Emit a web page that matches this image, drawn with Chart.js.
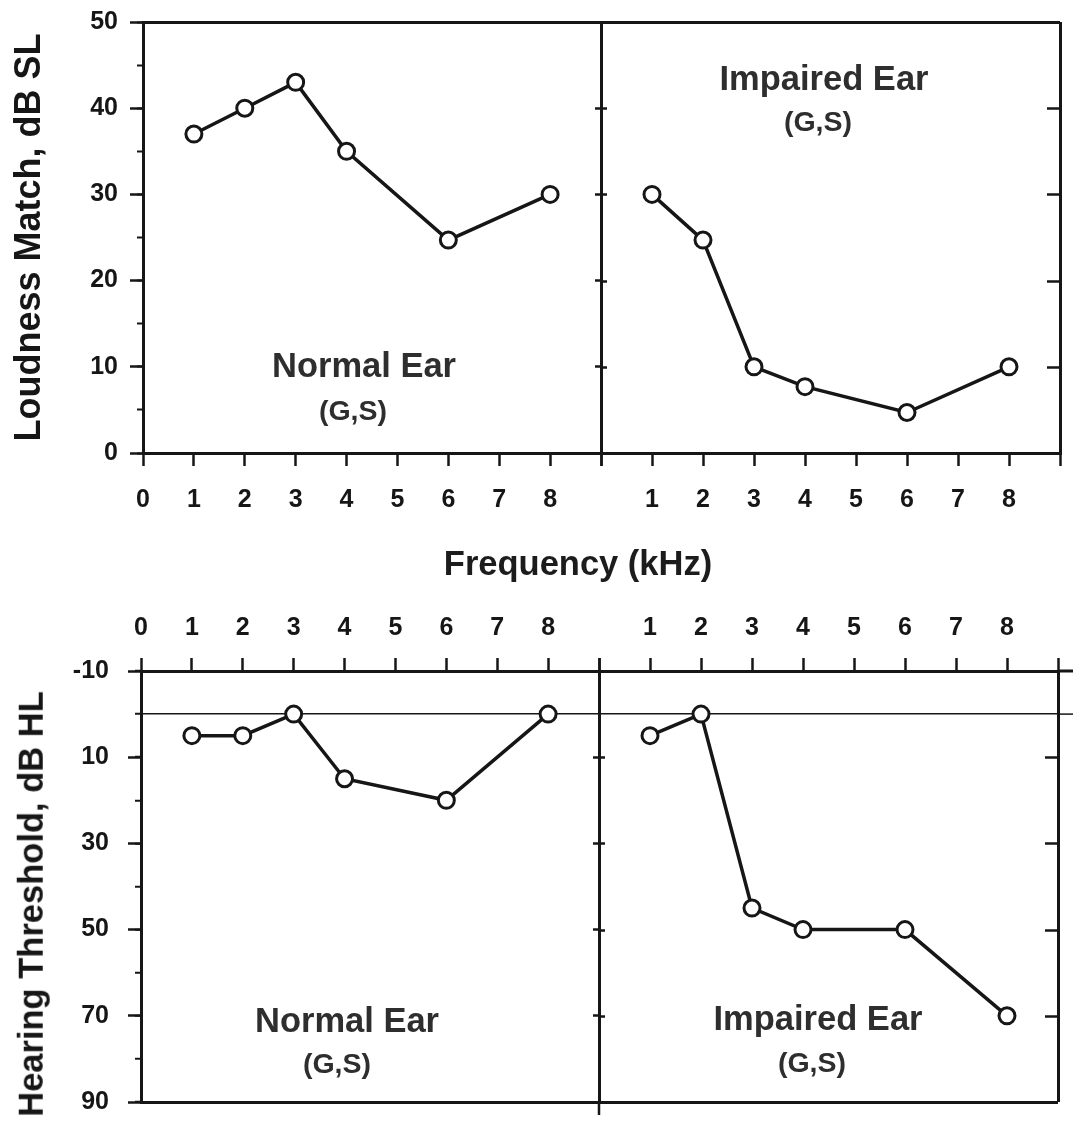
<!DOCTYPE html>
<html>
<head>
<meta charset="utf-8">
<title>Loudness match and hearing threshold</title>
<script src="https://cdn.jsdelivr.net/npm/chart.js@4.4.0/dist/chart.umd.min.js"></script>
<style>
  body { margin: 0; background: #fff; }
  #figure { position: relative; width: 1073px; height: 1121px; overflow: hidden;
            font-family: 'Liberation Sans', Arial, sans-serif; font-weight: bold; }
  #figure canvas { position: absolute; }
  .note { position: absolute; transform: translate(-50%, -50%); white-space: nowrap; line-height: 1; color: #2e2e2e; }
  .big { font-size: 34.5px; }
  .small { font-size: 28.5px; }
  .ytitle { position: absolute; transform: translate(-50%, -50%) rotate(-90deg); white-space: nowrap;
            line-height: 1; color: #161616; font-size: 34.5px; }
</style>
</head>
<body>
<div id="figure">
  <canvas id="loudNormal" width="630" height="535" style="left:0;top:-5px"></canvas>
  <canvas id="loudImpaired" width="510" height="530" style="left:575px;top:0"></canvas>
  <canvas id="threshNormal" width="630" height="576" style="left:0;top:560px"></canvas>
  <canvas id="threshImpaired" width="510" height="561" style="left:575px;top:560px"></canvas>

  <div class="note big" style="left:578px;top:563px;color:#1c1c1c">Frequency (kHz)</div>
  <div class="ytitle" style="left:31px;top:904px">Hearing Threshold, dB HL</div>
  <div class="note big" style="left:364px;top:365px">Normal Ear</div>
  <div class="note small" style="left:353px;top:410px">(G,S)</div>
  <div class="note big" style="left:824px;top:78px">Impaired Ear</div>
  <div class="note small" style="left:818px;top:121px">(G,S)</div>
  <div class="note big" style="left:347px;top:1020px">Normal Ear</div>
  <div class="note small" style="left:337px;top:1063px">(G,S)</div>
  <div class="note big" style="left:818px;top:1018px">Impaired Ear</div>
  <div class="note small" style="left:812px;top:1062px">(G,S)</div>
</div>
<script>
// --- data ---
const freqKHz = [1, 2, 3, 4, 6, 8];
const loudnessNormal = [37, 40, 43, 35, 24.7, 30];
const loudnessImpaired = [30, 24.7, 10, 7.7, 4.7, 10];
const thresholdNormal = [5, 5, 0, 15, 20, 0];
const thresholdImpaired = [5, 0, 45, 50, 50, 70];

const normalTickLabels = ['0', '1', '2', '3', '4', '5', '6', '7', '8', ''];
const impairedTickLabels = ['', '1', '2', '3', '4', '5', '6', '7', '8', ''];

const INK = '#161616';
const tickFont = { size: 25, weight: 'bold' };

Chart.defaults.font.family = "'Liberation Sans', Arial, sans-serif";
Chart.defaults.color = INK;

// inward ticks on panel edges, short lines past the right border, divider stub below
const frameTicks = {
    id: 'frameTicks',
    afterDraw(chart, args, opts) {
        const { ctx, chartArea: area, scales: { y } } = chart;
        ctx.save();
        ctx.strokeStyle = INK;
        ctx.lineWidth = 2.5;
        ctx.beginPath();
        y.ticks.filter(t => t.value > y.min && t.value < y.max).forEach(t => {
            const py = Math.round(y.getPixelForValue(t.value)) + 0.5;
            ctx.moveTo(area.left, py); ctx.lineTo(area.left + opts.left, py);
            ctx.moveTo(area.right, py); ctx.lineTo(area.right - opts.right, py);
        });
        if (opts.stubBelow) {
            ctx.moveTo(area.left, area.bottom); ctx.lineTo(area.left, area.bottom + opts.stubBelow);
        }
        ctx.stroke();
        (opts.extend || []).forEach(([v, w]) => {
            const py = y.getPixelForValue(v);
            ctx.lineWidth = w;
            ctx.beginPath(); ctx.moveTo(area.right, py); ctx.lineTo(chart.width, py); ctx.stroke();
        });
        ctx.restore();
    }
};

function series(values) {
    return [{
        data: freqKHz.map((f, i) => ({ x: f, y: values[i] })),
        borderColor: INK,
        borderWidth: 3.5,
        pointRadius: 8,
        pointBorderWidth: 3,
        pointBackgroundColor: '#fff',
        pointBorderColor: INK,
        clip: false
    }];
}

function xAxis(position, labels, height) {
    return {
        type: 'linear', position, min: 0, max: 9,
        ticks: { stepSize: 1, autoSkip: false, maxRotation: 0, font: tickFont, color: INK,
                 padding: position === 'bottom' ? 19 : 15, callback: v => labels[v] },
        grid: { color: c => c.tick.value === 9 ? INK : 'transparent', lineWidth: 3,
                tickColor: INK, tickWidth: 2.5, tickLength: 13 },
        border: { color: INK, width: 3 },
        afterFit: s => { s.height = height; }
    };
}

const baseOptions = {
    responsive: false,
    animation: false,
    events: [],
    plugins: { legend: { display: false }, tooltip: { enabled: false } }
};

// 1. Loudness match, normal ear
new Chart(document.getElementById('loudNormal'), {
    type: 'line',
    data: { datasets: series(loudnessNormal) },
    options: {
        ...baseOptions,
        layout: { padding: { top: 27, right: 29, bottom: 0, left: 0 } },
        scales: {
            x: xAxis('bottom', normalTickLabels, 77),
            y: {
                type: 'linear', position: 'left', weight: 1, min: 0, max: 50,
                ticks: { stepSize: 10, font: tickFont, color: INK, padding: 12 },
                grid: { color: c => c.tick.value === 50 ? INK : 'transparent', lineWidth: 3,
                        tickColor: INK, tickWidth: 2.5, tickLength: 13 },
                border: { color: INK, width: 3 },
                title: { display: true, text: 'Loudness Match, dB SL', color: INK,
                         font: { size: 36, weight: 'bold' }, padding: { top: 8 } },
                afterFit: s => { s.width = 143; }
            },
            yMinor: {
                type: 'linear', position: 'left', weight: 0, min: 0, max: 50,
                ticks: { stepSize: 5, display: false },
                grid: { drawOnChartArea: false, tickColor: INK, tickWidth: 2, tickLength: 6 },
                border: { display: false },
                afterFit: s => { s.width = 0; }
            }
        }
    }
});

// 2. Loudness match, impaired ear
new Chart(document.getElementById('loudImpaired'), {
    type: 'line',
    data: { datasets: series(loudnessImpaired) },
    options: {
        ...baseOptions,
        layout: { padding: { top: 22, right: 25, bottom: 0, left: 0 } },
        scales: {
            x: xAxis('bottom', impairedTickLabels, 77),
            y: {
                type: 'linear', position: 'left', min: 0, max: 50,
                ticks: { stepSize: 10, display: false },
                grid: { color: c => c.tick.value === 50 ? INK : 'transparent', lineWidth: 3,
                        tickColor: INK, tickWidth: 2.5, tickLength: 6 },
                border: { color: INK, width: 3 },
                afterFit: s => { s.width = 26; }
            }
        },
        plugins: { ...baseOptions.plugins, frameTicks: { left: 6, right: 13 } }
    },
    plugins: [frameTicks]
});

// 3. Hearing threshold, normal ear
new Chart(document.getElementById('threshNormal'), {
    type: 'line',
    data: { datasets: series(thresholdNormal) },
    options: {
        ...baseOptions,
        layout: { padding: { top: 0, right: 31, bottom: 34, left: 0 } },
        scales: {
            x: xAxis('top', normalTickLabels, 111),
            y: {
                type: 'linear', position: 'left', weight: 1, reverse: true, min: -10, max: 90,
                ticks: { stepSize: 20, font: tickFont, color: INK, padding: 19 },
                grid: { color: c => c.tick.value === 90 ? INK : 'transparent', lineWidth: 3,
                        tickColor: INK, tickWidth: 2.5, tickLength: 13 },
                border: { color: INK, width: 3 },
                afterFit: s => { s.width = 141; }
            },
            yMinor: {
                type: 'linear', position: 'left', weight: 0, reverse: true, min: -10, max: 90,
                ticks: { stepSize: 10, display: false },
                grid: { color: c => c.tick.value === 0 ? INK : 'transparent', lineWidth: 1.5,
                        tickColor: INK, tickWidth: 2, tickLength: 6 },
                border: { display: false },
                afterFit: s => { s.width = 0; }
            }
        }
    }
});

// 4. Hearing threshold, impaired ear
new Chart(document.getElementById('threshImpaired'), {
    type: 'line',
    data: { datasets: series(thresholdImpaired) },
    options: {
        ...baseOptions,
        layout: { padding: { top: 0, right: 27, bottom: 19, left: 0 } },
        scales: {
            x: xAxis('top', impairedTickLabels, 111),
            y: {
                type: 'linear', position: 'left', weight: 1, reverse: true, min: -10, max: 90,
                ticks: { stepSize: 20, display: false },
                grid: { color: c => c.tick.value === 90 ? INK : 'transparent', lineWidth: 3,
                        tickColor: INK, tickWidth: 2.5, tickLength: 6 },
                border: { color: INK, width: 3 },
                afterFit: s => { s.width = 24; }
            },
            yMinor: {
                type: 'linear', position: 'left', weight: 0, reverse: true, min: -10, max: 90,
                ticks: { stepSize: 10, display: false },
                grid: { color: c => c.tick.value === 0 ? INK : 'transparent', lineWidth: 1.5,
                        drawTicks: false },
                border: { display: false },
                afterFit: s => { s.width = 0; }
            }
        },
        plugins: { ...baseOptions.plugins,
                   frameTicks: { left: 6, right: 13, stubBelow: 13, extend: [[-10, 3], [0, 1.5]] } }
    },
    plugins: [frameTicks]
});
</script>
</body>
</html>
